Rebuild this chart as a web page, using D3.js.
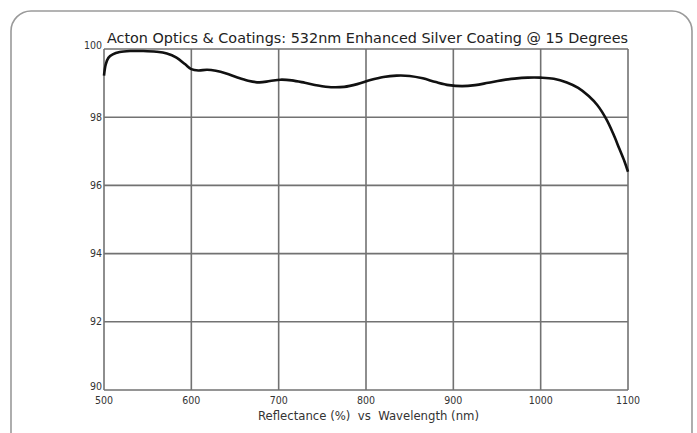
<!DOCTYPE html>
<html><head><meta charset="utf-8">
<script src="https://cdn.jsdelivr.net/npm/d3@7"></script>
<style>html,body{margin:0;padding:0;background:#fff;}svg{display:block;}</style>
</head><body>
<svg id="c" width="697" height="433"></svg>
<script>
const titleText = "Acton Optics & Coatings: 532nm Enhanced Silver Coating @ 15 Degrees";
const xTitleText = "Reflectance (%)  vs  Wavelength (nm)";
const xTicks = [500,600,700,800,900,1000,1100];
const yTicks = [90,92,94,96,98,100];
const wavelength = [500,502,505,510,518,530,545,560,572,583,593,600,608,618,628,640,652,665,678,690,702,715,730,745,760,775,790,805,820,835,850,865,880,895,910,925,940,955,970,985,1000,1015,1030,1043,1055,1065,1075,1083,1090,1096,1100];
const reflectance = [99.22,99.55,99.74,99.84,99.91,99.94,99.94,99.92,99.87,99.75,99.55,99.41,99.37,99.39,99.36,99.28,99.17,99.07,99.02,99.06,99.10,99.08,99.01,98.93,98.88,98.89,98.97,99.09,99.18,99.22,99.21,99.14,99.03,98.94,98.91,98.94,99.01,99.08,99.13,99.16,99.16,99.13,99.02,98.86,98.62,98.35,97.95,97.52,97.08,96.70,96.40];

const svg = d3.select("#c");
const m = {left:104, right:628, top:49, bottom:390};
const x = d3.scaleLinear().domain([500,1100]).range([m.left, m.right]);
const y = d3.scaleLinear().domain([90,100]).range([m.bottom, m.top]);

// outer frame
svg.append("rect").attr("x",11).attr("y",11).attr("width",681).attr("height",445)
  .attr("rx",20).attr("ry",20).attr("fill","none").attr("stroke","#9a9a9a").attr("stroke-width",1.6);

const font = "'DejaVu Sans Condensed', 'Liberation Sans Narrow', 'Open Sans', sans-serif";

// grid
const g = svg.append("g");
g.selectAll("line.v").data(xTicks).join("line")
  .attr("x1",d=>x(d)).attr("x2",d=>x(d)).attr("y1",y(100)).attr("y2",y(90))
  .attr("stroke","#727272").attr("stroke-width",1.6);
g.selectAll("line.h").data(yTicks).join("line")
  .attr("x1",x(500)).attr("x2",x(1100)).attr("y1",d=>y(d)).attr("y2",d=>y(d))
  .attr("stroke","#727272").attr("stroke-width",1.6);

// y tick labels
g.selectAll("text.yt").data(yTicks).join("text")
  .attr("x", x(500)-2).attr("y", d=>y(d)+ (d===100 || d===90 ? 0 : 3.5))
  .attr("text-anchor","end").attr("font-family",font).attr("font-size",10.5)
  .attr("fill","#333").text(d=>d);
// x tick labels
g.selectAll("text.xt").data(xTicks).join("text")
  .attr("x", d=>x(d)).attr("y", y(90)+13.5)
  .attr("text-anchor","middle").attr("font-family",font).attr("font-size",10.5)
  .attr("fill","#333").text(d=>d);

// curve
const line = d3.line().x((d,i)=>x(wavelength[i])).y((d,i)=>y(reflectance[i])).curve(d3.curveCatmullRom.alpha(0.5));
svg.append("path").datum(reflectance).attr("d",line).attr("fill","none")
  .attr("stroke","#111").attr("stroke-width",2.6).attr("stroke-linejoin","round");

// title
const t = svg.append("text").attr("x",107).attr("y",43).attr("font-family",font)
  .attr("font-size",13.5).attr("fill","#222").text(titleText);
t.attr("textLength",521).attr("lengthAdjust","spacingAndGlyphs");

const xt = svg.append("text").attr("x",258).attr("y",420).attr("font-family",font)
  .attr("font-size",11.5).attr("fill","#333").attr("xml:space","preserve").text(xTitleText);
xt.attr("textLength",221).attr("lengthAdjust","spacingAndGlyphs");
</script>
</body></html>
